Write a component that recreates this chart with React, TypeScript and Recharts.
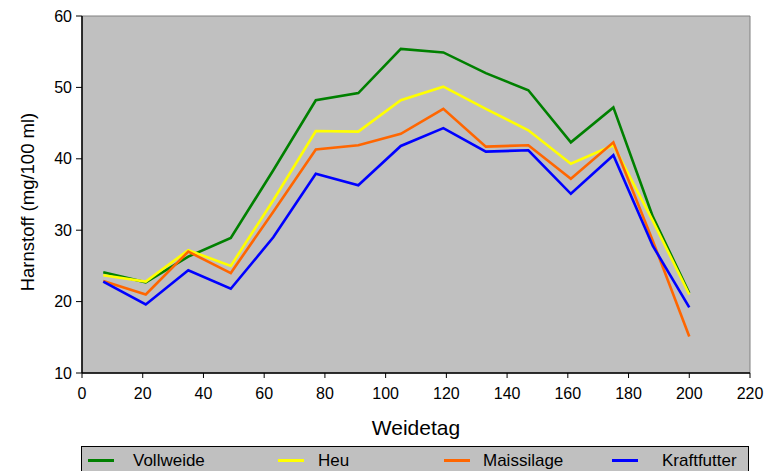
import { CartesianGrid, Label, Line, LineChart, ReferenceArea, XAxis, YAxis } from "recharts";

const FONT = "'Liberation Sans', Arial, sans-serif";

// Weidetag (days on pasture) of each sampling
const DAYS = [7, 21, 35, 49, 63, 77, 91, 105, 119, 133, 147, 161, 175, 188, 200];

// Harnstoff in mg/100 ml per feeding group
const VOLLWEIDE = [24.1, 22.7, 26.3, 28.9, 38.4, 48.2, 49.2, 55.4, 54.9, 52.0, 49.6, 42.3, 47.2, 31.9, 21.2];
const HEU = [23.7, 22.8, 27.2, 25.0, 34.2, 43.9, 43.8, 48.2, 50.1, 47.0, 44.0, 39.3, 41.9, 31.3, 21.0];
const MAISSILAGE = [22.9, 21.0, 27.0, 24.0, 32.6, 41.3, 41.9, 43.5, 47.0, 41.7, 41.9, 37.2, 42.3, 28.5, 15.1];
const KRAFTFUTTER = [22.8, 19.6, 24.4, 21.8, 29.0, 37.9, 36.3, 41.8, 44.3, 41.0, 41.2, 35.1, 40.5, 27.8, 19.2];

const X_TICKS = [0, 20, 40, 60, 80, 100, 120, 140, 160, 180, 200, 220];
const Y_TICKS = [10, 20, 30, 40, 50, 60];

const SERIES = [
  { key: "vollweide", name: "Vollweide", color: "#008000", values: VOLLWEIDE, lx: 6, tx: 51 },
  { key: "heu", name: "Heu", color: "#FFFF00", values: HEU, lx: 196, tx: 236 },
  { key: "mais", name: "Maissilage", color: "#FF6600", values: MAISSILAGE, lx: 362, tx: 401 },
  { key: "kraft", name: "Kraftfutter", color: "#0000FF", values: KRAFTFUTTER, lx: 530, tx: 580 },
];

const rows = DAYS.map((day, i) => {
  const row: Record<string, number> = { day };
  SERIES.forEach((s) => (row[s.key] = s.values[i]));
  return row;
});

function LegendBox() {
  return (
    <div
      style={{
        position: "absolute",
        left: 81,
        top: 446,
        width: 668,
        height: 32,
        boxSizing: "border-box",
        border: "1.5px solid #000",
        background: "#C0C0C0",
        fontFamily: FONT,
        fontSize: 17,
        color: "#000",
      }}
    >
      {SERIES.map((s) => (
        <div key={s.key}>
          <div
            style={{
              position: "absolute",
              left: s.lx,
              top: 12,
              width: 26,
              height: 3,
              background: s.color,
            }}
          />
          <div style={{ position: "absolute", left: s.tx, top: 4, whiteSpace: "nowrap" }}>{s.name}</div>
        </div>
      ))}
    </div>
  );
}

export default function App() {
  return (
    <div style={{ position: "absolute", left: 0, top: 0, width: 770, height: 471, background: "#fff", overflow: "hidden" }}>
      <LineChart width={770} height={471} data={rows} margin={{ top: 16, right: 20, bottom: 38, left: 0 }}>
        <ReferenceArea x1={0} x2={220} y1={10} y2={60} fill="#C0C0C0" fillOpacity={1} stroke="#808080" strokeWidth={1} />
        <CartesianGrid horizontal={false} vertical={false} />
        <XAxis
          type="number"
          dataKey="day"
          domain={[0, 220]}
          ticks={X_TICKS}
          interval={0}
          height={60}
          tickSize={5}
          tickMargin={10}
          axisLine={{ stroke: "#000", strokeWidth: 1.5 }}
          tickLine={{ stroke: "#000" }}
          tick={{ fill: "#000", fontSize: 16, fontFamily: FONT }}
        >
          <Label
            content={({ viewBox }: any) => (
              <text
                x={viewBox.x + viewBox.width / 2}
                y={viewBox.y + 54}
                textAnchor="middle"
                dominantBaseline="central"
                fontSize={21}
                fontFamily={FONT}
                fill="#000"
              >
                Weidetag
              </text>
            )}
          />
        </XAxis>
        <YAxis
          type="number"
          domain={[10, 60]}
          ticks={Y_TICKS}
          interval={0}
          width={82}
          tickSize={6}
          tickMargin={4}
          axisLine={{ stroke: "#000", strokeWidth: 1.5 }}
          tickLine={{ stroke: "#000" }}
          tick={{ fill: "#000", fontSize: 16, fontFamily: FONT }}
        >
          <Label
            content={() => (
              <text
                x={27}
                y={202}
                transform="rotate(-90, 27, 202)"
                textAnchor="middle"
                dominantBaseline="central"
                fontSize={18.5}
                fontFamily={FONT}
                fill="#000"
              >
                Harnstoff (mg/100 ml)
              </text>
            )}
          />
        </YAxis>
        {SERIES.map((s) => (
          <Line
            key={s.key}
            type="linear"
            dataKey={s.key}
            name={s.name}
            stroke={s.color}
            strokeWidth={2.6}
            dot={false}
            activeDot={false}
            isAnimationActive={false}
          />
        ))}
      </LineChart>
      <LegendBox />
    </div>
  );
}
